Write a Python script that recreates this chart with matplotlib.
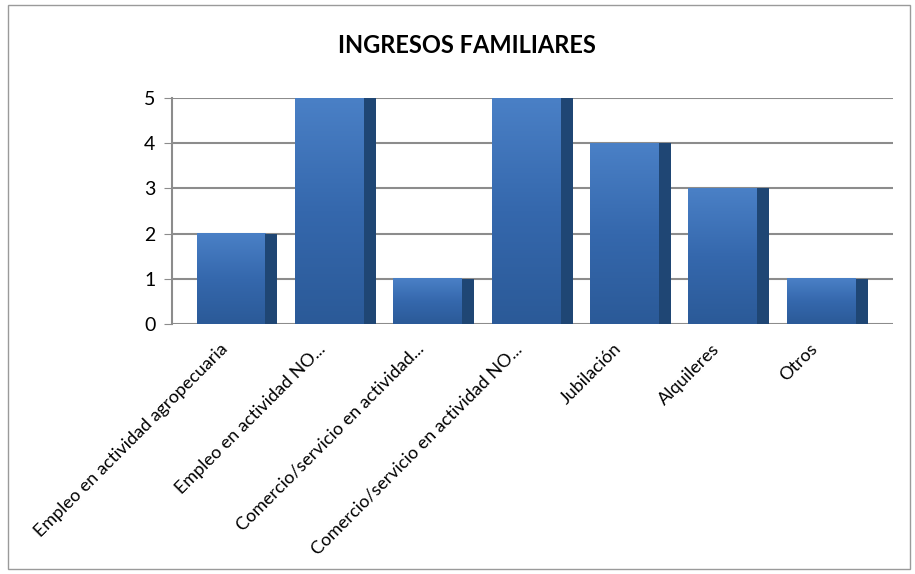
import matplotlib.pyplot as plt
import numpy as np
from matplotlib.colors import LinearSegmentedColormap
from matplotlib.patches import Rectangle

# Datos
categorias = ['Empleo en actividad agropecuaria', 'Empleo en actividad NO...',
              'Comercio/servicio en actividad...', 'Comercio/servicio en actividad NO...',
              'Jubilación', 'Alquileres', 'Otros']
valores = [2, 5, 1, 5, 4, 3, 1]

plt.rcParams['font.family'] = ['Lato', 'DejaVu Sans']

fig = plt.figure(figsize=(9.15, 5.74), dpi=100)
ax = fig.add_axes([0.188, 0.4355, 0.788, 0.394])

# borde del gráfico
fig.patches.append(Rectangle((0.009, 0.008), 0.985, 0.984, transform=fig.transFigure,
                             fill=False, edgecolor='#9a9a9a', linewidth=1))

cmap = LinearSegmentedColormap.from_list('azul', ['#4a80c6', '#3568ad', '#2b5a98'])
grad = np.linspace(0, 1, 100).reshape(-1, 1)
ancho = 0.70
lado = 0.122
x = np.arange(len(valores))

for xi, v in zip(x, valores):
    ax.imshow(grad, cmap=cmap, aspect='auto', extent=(xi - 0.35, xi - 0.35 + ancho, 0, v),
              origin='upper', zorder=3)
    ax.bar(xi + 0.35, v, width=lado, align='edge', color='#1f4674', zorder=3)

ax.set_xlim(-0.6, 6.73)
ax.set_ylim(0, 5)
ax.set_yticks(range(6))
ax.yaxis.grid(True, color='#8c8c8c', linewidth=1.5, zorder=0)
ax.set_axisbelow(True)
ax.tick_params(axis='y', labelsize=14, length=6, color='#8c8c8c', pad=6)
ax.set_xticks(x - 0.12)
ax.set_xticklabels(categorias, rotation=45, ha='right', va='top', rotation_mode='anchor', fontsize=13)
ax.tick_params(axis='x', length=0, pad=12)
for s in ['top', 'right', 'bottom']:
    ax.spines[s].set_visible(False)
ax.spines['left'].set_color('#8c8c8c')
ax.spines['left'].set_linewidth(1.5)

fig.text(0.51, 0.92, 'INGRESOS FAMILIARES', ha='center', va='center', fontsize=17, fontweight='bold')

plt.savefig('out.png', dpi=100)
